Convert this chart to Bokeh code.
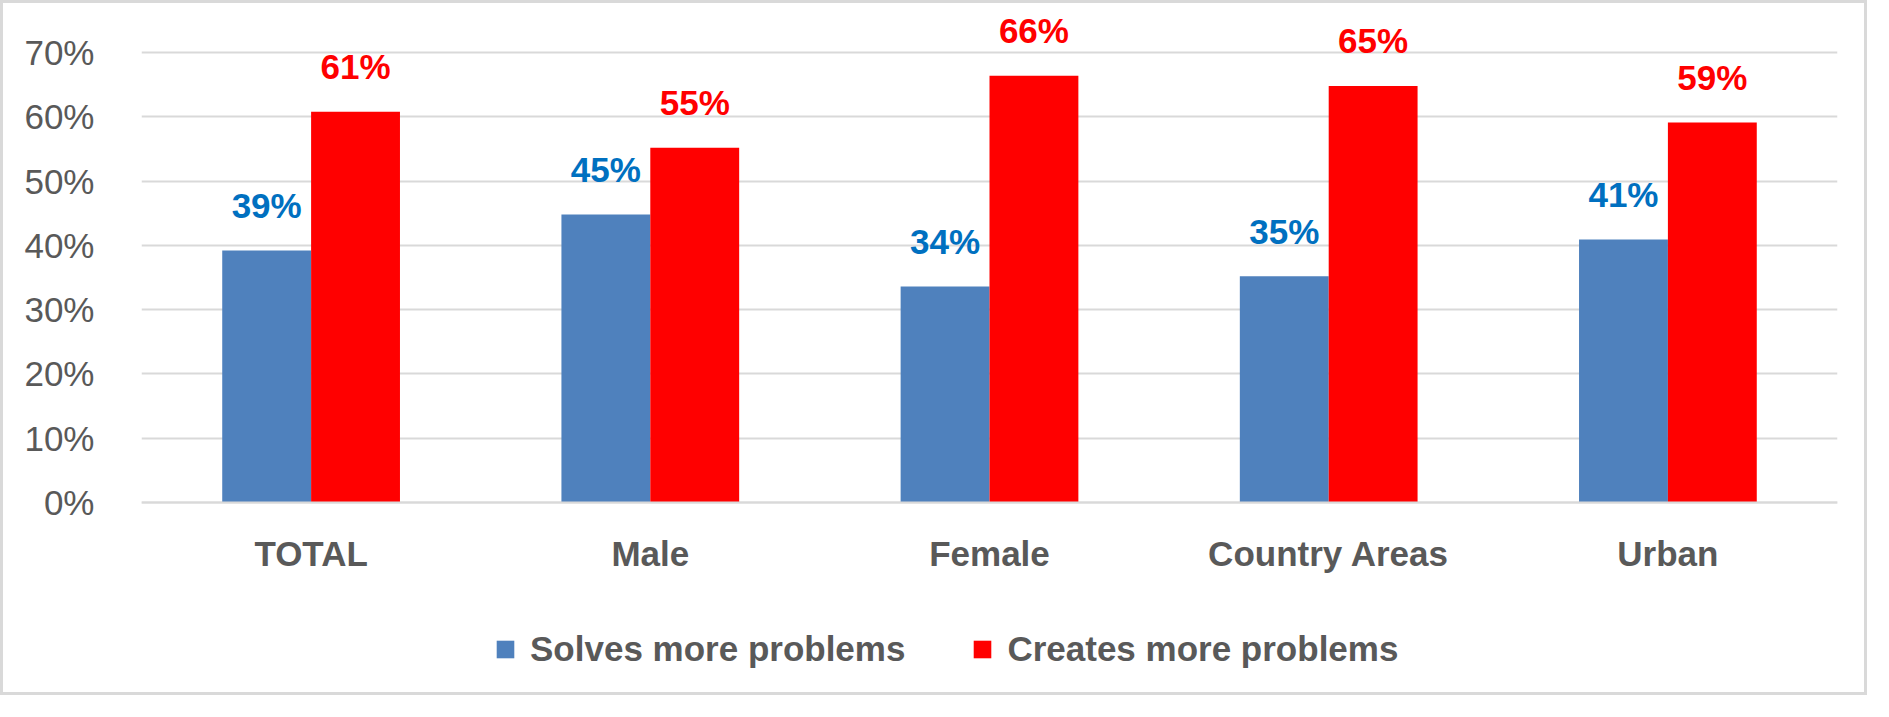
from bokeh.plotting import figure
from bokeh.models import ColumnDataSource, NumeralTickFormatter, FixedTicker, Legend, LegendItem
from bokeh.transform import dodge
from bokeh.core.properties import value
from bokeh.embed import file_html
from bokeh.resources import INLINE

categories = ["TOTAL", "Male", "Female", "Country Areas", "Urban"]
solves = [0.392, 0.448, 0.336, 0.352, 0.409]
creates = [0.608, 0.552, 0.664, 0.648, 0.591]
y_ticks = [0.0, 0.1, 0.2, 0.3, 0.4, 0.5, 0.6, 0.7]
series_names = ["Solves more problems", "Creates more problems"]

FONT = "Liberation Sans"
GRAY = "#595959"
GRID = "#D9D9D9"
BLUE = "#4F81BD"
RED = "#FF0000"
BLUE_LABEL = "#0070C0"

src = ColumnDataSource(dict(
    cat=categories,
    solves=solves,
    creates=creates,
    solves_lbl=[f"{round(v * 100)}%" for v in solves],
    creates_lbl=[f"{round(v * 100)}%" for v in creates],
))

# frame: 0.7 gridline 48 px below frame top, value 0 at 450 px below that,
# 192 px of room below 0 for category labels and legend
u = 450 / 0.7
p = figure(width=1867, height=695, x_range=categories,
           y_range=(-192 / u, 0.7 + 48 / u),
           output_backend="svg", toolbar_location=None,
           min_border_left=138, min_border_right=33,
           min_border_top=1, min_border_bottom=4)
p.outline_line_color = None
p.background_fill_color = "white"
p.border_fill_color = "white"
p.styles = {"border": "3px solid #D9D9D9"}

w = 0.262
r1 = p.vbar(x=dodge("cat", -w / 2, range=p.x_range), top="solves", bottom=0, width=w,
            source=src, fill_color=BLUE, line_color=None)
r2 = p.vbar(x=dodge("cat", w / 2, range=p.x_range), top="creates", bottom=0, width=w,
            source=src, fill_color=RED, line_color=None)

p.text(x=dodge("cat", -w / 2, range=p.x_range), y="solves", text="solves_lbl",
       source=src, text_align="center", text_baseline="alphabetic", y_offset=-45,
       text_font=value(FONT), text_font_style="bold", text_font_size="35px",
       text_color=BLUE_LABEL)
p.text(x=dodge("cat", w / 2, range=p.x_range), y="creates", text="creates_lbl",
       source=src, text_align="center", text_baseline="alphabetic", y_offset=-45,
       text_font=value(FONT), text_font_style="bold", text_font_size="35px",
       text_color=RED)

# axes
p.xgrid.grid_line_color = None
p.ygrid.grid_line_color = GRID
p.ygrid.grid_line_width = 2
p.ygrid.ticker = FixedTicker(ticks=y_ticks)

p.yaxis.ticker = FixedTicker(ticks=y_ticks)
p.yaxis.formatter = NumeralTickFormatter(format="0%")
p.yaxis.axis_line_color = None
p.yaxis.major_tick_line_color = None
p.yaxis.minor_tick_line_color = None
p.yaxis.major_label_text_font = FONT
p.yaxis.major_label_text_font_size = "35px"
p.yaxis.major_label_text_color = GRAY
p.yaxis.major_label_standoff = 41

p.xaxis.fixed_location = 0
p.xaxis.axis_line_color = GRID
p.xaxis.axis_line_width = 2
p.xaxis.major_tick_line_color = None
p.xaxis.minor_tick_line_color = None
p.xaxis.major_label_text_font = FONT
p.xaxis.major_label_text_font_style = "bold"
p.xaxis.major_label_text_font_size = "35px"
p.xaxis.major_label_text_color = GRAY
p.xaxis.major_label_standoff = 25

legend = Legend(items=[LegendItem(label=series_names[0], renderers=[r1]),
                       LegendItem(label=series_names[1], renderers=[r2])],
                location=(353, 25), orientation="horizontal",
                glyph_width=22, glyph_height=22, label_standoff=14, spacing=66,
                padding=0, margin=0, border_line_color=None,
                background_fill_alpha=0,
                label_text_font=FONT, label_text_font_style="bold",
                label_text_font_size="35px", label_text_color=GRAY)
p.add_layout(legend, "center")

open("out.html", "w").write(file_html(p, INLINE))
